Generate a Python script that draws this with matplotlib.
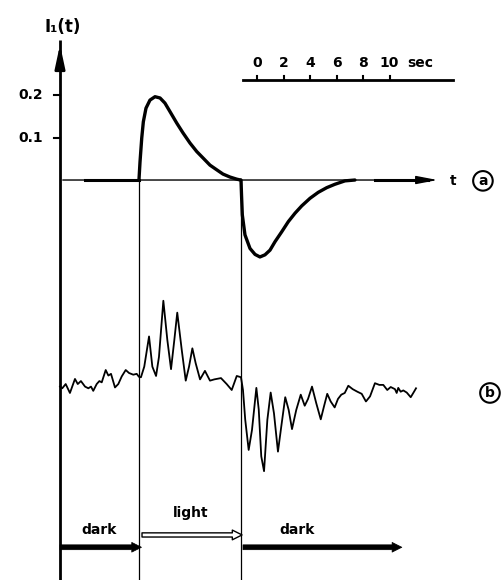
import matplotlib
matplotlib.use("Agg")
import matplotlib.pyplot as plt
import numpy as np

# ---- data ----
# trace (a): I1(t) response, t in seconds
a_on_t = [5.96, 6.04, 6.17, 6.29, 6.49, 6.79, 7.17, 7.55, 7.92, 8.30, 8.81, 9.28, 9.81, 10.32, 10.79, 11.32, 11.83, 12.30, 12.83, 13.34, 13.62]
a_on_v = [0, 0.043, 0.099, 0.137, 0.169, 0.188, 0.196, 0.193, 0.181, 0.161, 0.134, 0.111, 0.087, 0.067, 0.052, 0.035, 0.024, 0.014, 0.007, 0.002, 0]
a_off_t = [13.66, 13.70, 13.76, 13.96, 14.34, 14.72, 15.09, 15.47, 15.85, 16.23, 16.73, 17.23, 17.74, 18.24, 18.87, 19.49, 20.13, 20.75, 21.51, 22.26]
a_off_v = [0, -0.035, -0.082, -0.129, -0.161, -0.175, -0.181, -0.176, -0.165, -0.145, -0.122, -0.098, -0.078, -0.061, -0.043, -0.029, -0.018, -0.010, -0.002, 0]

# trace (b): noisy record, relative to its own baseline
b_t = [0, 0.17, 0.43, 0.75, 1.13, 1.34, 1.58, 1.89, 2.14, 2.34, 2.51, 2.77, 2.97, 3.15, 3.45, 3.65, 3.85, 4.15, 4.40, 4.66, 4.96, 5.21, 5.53, 5.79, 5.96,
       6.11, 6.36, 6.72, 6.97, 7.25, 7.47, 7.80, 8.10, 8.38, 8.63, 8.85, 9.19, 9.49, 9.74, 9.99, 10.24, 10.57, 10.94, 11.32, 11.65, 12.15, 12.58, 12.96, 13.34, 13.66,
       13.81, 13.98, 14.24, 14.49, 14.82, 15.00, 15.19, 15.40, 15.65, 15.90, 16.15, 16.45, 16.70, 17.00, 17.26, 17.51, 17.83, 18.17, 18.47, 18.72, 19.02,
       19.34, 19.68, 19.92, 20.17, 20.43, 20.73, 20.98, 21.23, 21.49, 21.76, 22.09, 22.44, 22.77, 23.09, 23.40, 23.77, 24.10, 24.40, 24.70, 24.96,
       25.28, 25.41, 25.53, 25.71, 25.91, 26.17, 26.47, 26.72, 26.87]
b_v = [0.003, -0.001, 0.009, -0.012, 0.021, 0.009, 0.016, 0.003, -0.001, 0.003, -0.007, 0.009, 0.016, 0.013, 0.042, 0.029, 0.033, 0.001, 0.009, 0.027, 0.042, 0.035, 0.031, 0.033, 0.026,
       0.025, 0.050, 0.121, 0.050, 0.028, 0.073, 0.205, 0.113, 0.044, 0.113, 0.177, 0.089, 0.017, 0.050, 0.093, 0.058, 0.020, 0.040, 0.017, 0.020, 0.023, 0.009, -0.005, 0.028, 0.025,
       -0.005, -0.075, -0.146, -0.099, 0, -0.051, -0.161, -0.196, -0.075, -0.011, -0.060, -0.150, -0.091, -0.022, -0.052, -0.097, -0.052, -0.016, -0.042, -0.026, 0.003,
       -0.036, -0.074, -0.044, -0.014, -0.032, -0.046, -0.026, -0.016, -0.012, 0.005, -0.003, -0.009, -0.014, -0.032, -0.020, 0.011, 0.007, 0.007, -0.005, 0.002,
       -0.003, -0.012, 0, -0.009, -0.006, -0.011, -0.022, -0.009, -0.001]

y_ticks = [0.1, 0.2]
y_tick_labels = ["0.1", "0.2"]
scale_ticks = [0, 2, 4, 6, 8, 10]
light_on, light_off = 5.96, 13.66
phase_labels = ["dark", "light", "dark"]

# ---- layout constants ----
b_base = -0.489
scale_x0 = 14.87
scale_y = 0.235

fig = plt.figure(figsize=(5.04, 5.80), dpi=100)
ax = fig.add_axes([0, 0, 1, 1])
ax.set_xlim(-4.528, 33.51)
ax.set_ylim(-0.941, 0.4235)
ax.axis("off")

font = dict(family="DejaVu Sans", fontweight="bold")

# axes lines
ax.plot([0, 0], [-0.95, 0.33], color="black", lw=2.0, solid_capstyle="butt")
ax.annotate("", xy=(0, 0.325), xytext=(0, 0.27),
            arrowprops=dict(arrowstyle="-|>,head_width=0.3,head_length=1.4", color="black", lw=2.0))
ax.plot([light_on, light_on], [0, -0.95], color="black", lw=0.9)
ax.plot([light_off, light_off], [0, -0.95], color="black", lw=0.9)

# time axis
ax.annotate("", xy=(28.7, 0), xytext=(0, 0),
            arrowprops=dict(arrowstyle="-|>,head_width=0.25,head_length=1.3", color="black", lw=1.0))
ax.plot([1.9, light_on], [0, 0], color="black", lw=2.2)
ax.plot([23.8, 27.8], [0, 0], color="black", lw=2.2)
ax.text(29.7, -0.003, "t", ha="center", va="center", fontsize=10, **font)

# y ticks
for v, lab in zip(y_ticks, y_tick_labels):
    ax.plot([-0.45, 0], [v, v], color="black", lw=1.5)
    ax.text(-1.3, v, lab, ha="right", va="center", fontsize=10, **font)
ax.text(0.2, 0.36, "I₁(t)", ha="center", va="center", fontsize=12, **font)

# trace a
ax.plot(a_on_t, a_on_v, color="black", lw=2.4, solid_joinstyle="round", solid_capstyle="round")
ax.plot(a_off_t, a_off_v, color="black", lw=2.4, solid_joinstyle="round", solid_capstyle="round")

# trace b
ax.plot(b_t, np.array(b_v) + b_base, color="black", lw=1.3, solid_joinstyle="round")

# time scale bar
ax.plot([13.81, 29.66], [scale_y, scale_y], color="black", lw=2.0)
for s in scale_ticks:
    ax.plot([scale_x0 + s, scale_x0 + s], [scale_y, scale_y + 0.01], color="black", lw=1.5)
    ax.text(scale_x0 + s, scale_y + 0.04, str(s), ha="center", va="center", fontsize=10, **font)
ax.text(scale_x0 + 12.3, scale_y + 0.04, "sec", ha="center", va="center", fontsize=10, **font)

# circled labels
ax.text(31.92, -0.002, "a", ha="center", va="center", fontsize=10, **font,
        bbox=dict(boxstyle="circle,pad=0.2", fc="white", ec="black", lw=1.5))
ax.text(32.45, -0.501, "b", ha="center", va="center", fontsize=10, **font,
        bbox=dict(boxstyle="circle,pad=0.2", fc="white", ec="black", lw=1.5))

# phase arrows
ax.annotate("", xy=(6.15, -0.864), xytext=(0, -0.864),
            arrowprops=dict(arrowstyle="simple,head_width=0.7,head_length=0.7,tail_width=0.35",
                            fc="black", ec="black", lw=0.5, shrinkA=0, shrinkB=0))
ax.annotate("", xy=(13.74, -0.835), xytext=(6.19, -0.835),
            arrowprops=dict(arrowstyle="simple,head_width=0.7,head_length=0.7,tail_width=0.3",
                            fc="white", ec="black", lw=1.0, shrinkA=0, shrinkB=0))
ax.annotate("", xy=(25.8, -0.864), xytext=(13.81, -0.864),
            arrowprops=dict(arrowstyle="simple,head_width=0.7,head_length=0.7,tail_width=0.35",
                            fc="black", ec="black", lw=0.5, shrinkA=0, shrinkB=0))
ax.text(2.94, -0.824, phase_labels[0], ha="center", va="center", fontsize=10, **font)
ax.text(9.89, -0.784, phase_labels[1], ha="center", va="center", fontsize=10, **font)
ax.text(17.9, -0.824, phase_labels[2], ha="center", va="center", fontsize=10, **font)

fig.savefig("out.png", dpi=100)
